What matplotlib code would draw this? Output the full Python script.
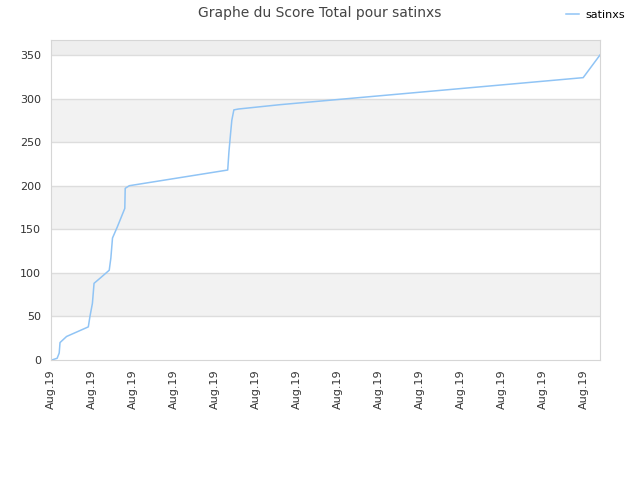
import matplotlib
matplotlib.use("Agg")
import matplotlib.pyplot as plt

# positions along the axis, in units of x ticks
x_pos = [0.02, 0.15, 0.20, 0.22, 0.38, 0.91, 0.95, 1.01, 1.05, 1.20, 1.42, 1.46,
         1.50, 1.62, 1.80, 1.81, 1.91, 4.31, 4.34, 4.38, 4.41, 4.46, 4.57, 5.59,
         12.98, 13.39]
scores = [0, 2, 8, 20, 27, 38, 50, 65, 88, 94, 103, 117,
          140, 153, 174, 197, 200, 218, 239, 260, 275, 287, 288, 293,
          324, 350]
tick_labels = ["Aug.19"] * 14
y_ticks = [0, 50, 100, 150, 200, 250, 300, 350]

fig = plt.figure(figsize=(6.4, 4.8), dpi=100)
ax = fig.add_axes([51 / 640, 120 / 480, 549 / 640, 320 / 480])

ymax = 367.2
# alternating bands
for i, lo in enumerate(y_ticks):
    hi = y_ticks[i + 1] if i + 1 < len(y_ticks) else ymax
    if i % 2 == 1:
        ax.axhspan(lo, hi, color="#f2f2f2", zorder=0, lw=0)
ax.axhspan(350, ymax, color="#eeeeee", zorder=0, lw=0)
for y in y_ticks[1:]:
    ax.axhline(y, color="#dddddd", lw=1, zorder=1)

ax.plot(x_pos, scores, color="#90c4f5", lw=1.1, label="satinxs", zorder=2)

ax.set_xlim(0, 549 / 41)
ax.set_ylim(0, ymax)
ax.set_xticks(range(len(tick_labels)))
ax.set_xticklabels(tick_labels, rotation=90)
ax.set_yticks(y_ticks)
ax.tick_params(length=0, labelsize=8, labelcolor="#333333", pad=7)
for s in ax.spines.values():
    s.set_color("#d6d6d6")

fig.suptitle("Graphe du Score Total pour satinxs", y=0.988, fontsize=10, color="#444444")
fig.legend(loc="upper right", bbox_to_anchor=(0.993, 1.0), frameon=False,
           fontsize=8, handlelength=1.2, handletextpad=0.6)

fig.savefig("out.png")
